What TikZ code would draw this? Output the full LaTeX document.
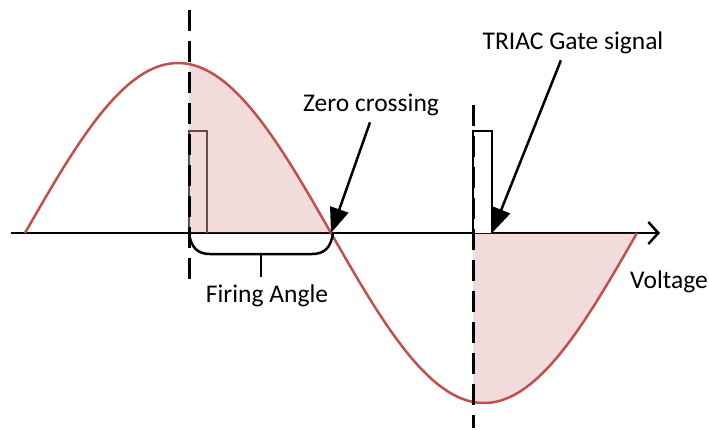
\documentclass[tikz,border=0pt]{standalone}
\usepackage{fontspec}
\setmainfont{Carlito}
\usepackage{tikz}
\usetikzlibrary{arrows.meta, positioning, calc}

\definecolor{wavered}{HTML}{C0504D}
\definecolor{pulsegray}{HTML}{5A4848}

\begin{document}
\begin{tikzpicture}[
    x=1pt, y=-1pt,
    declare function={vwave(\t)=233-170*sin((\t-25)/306*180);},
    every node/.style={font=\fontsize{25.5}{30}\selectfont},
    wave/.style={wavered, line width=2.5pt},
    conduct/.style={fill=wavered, fill opacity=0.2},
    trigger/.style={dash pattern=on 21pt off 10pt, line width=3pt},
    pulse/.style={line width=2.8pt},
    arrow/.style={-{Triangle[length=25pt,width=19pt]}, line width=2.5pt, shorten <=3pt}
]

    \useasboundingbox (0,0) rectangle (709,429);

    % Axis
    \draw[-{Straight Barb[length=10pt,width=22pt]}, line width=2.5pt] (11,233) -- (660,233);

    % Gate pulse at the first trigger (under the shading)
    \draw[pulse, pulsegray] (189,233) -- (189,131) -- (207,131) -- (207,233);

    % Conducting parts of the wave
    \fill[conduct] (189,233) -- plot[domain=189:331, samples=60] (\x,{vwave(\x)}) -- cycle;
    \fill[conduct] (473,233) -- plot[domain=473:637, samples=60] (\x,{vwave(\x)}) -- cycle;

    % Mains voltage
    \draw[wave] plot[domain=25:637, samples=150] (\x,{vwave(\x)});

    % Gate pulse at the second trigger
    \draw[pulse, fill=white] (473,233) -- (473,131) -- (492,131) -- (492,233);

    % Trigger instants
    \draw[trigger] (189,10) -- (189,287);
    \draw[trigger] (473,105) -- (473,428);

    % Firing angle brace
    \draw[line width=2.5pt] (189,233) .. controls (191,248) and (198,254) .. (210,254)
        -- (312,254) .. controls (324,254) and (331,248) .. (333,233);
    \draw[line width=2.5pt] (261,254) -- (261,277);

    % Labels and pointers
    \coordinate (zero) at (331,233);
    \coordinate (gatetip) at (492,233);
    \node (zerolabel) at (371,105) {Zero crossing};
    \node (gatelabel) at (573,43) {TRIAC Gate signal};
    \node (firelabel) at (267,296) {Firing Angle};
    \node (voltlabel) at (669,282) {Voltage};

    \draw[arrow] (zerolabel.south) -- (zero);
    \draw[arrow] ([xshift=-11pt]gatelabel.south) -- (gatetip);
\end{tikzpicture}
\end{document}
